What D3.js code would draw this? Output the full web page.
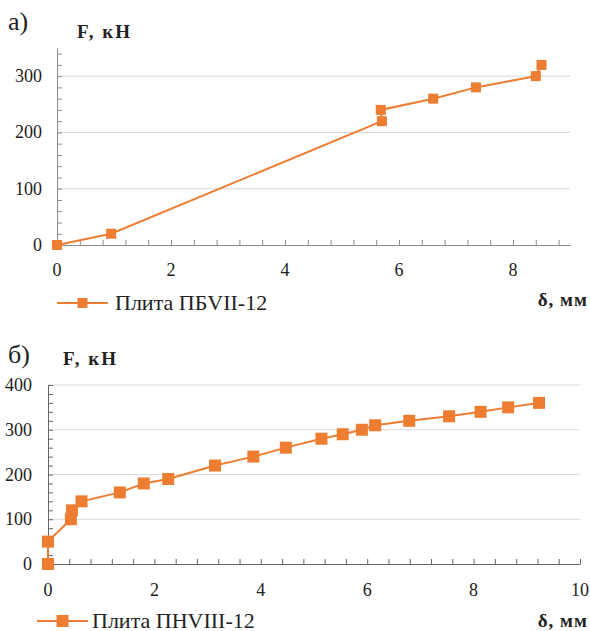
<!DOCTYPE html>
<html>
<head>
<meta charset="utf-8">
<script src="https://cdn.jsdelivr.net/npm/d3@7"></script>
<style>
  body { margin: 0; background: #fff; }
  #chart { position: relative; width: 590px; height: 631px; overflow: hidden; }
  svg { position: absolute; left: 0; top: 0; }
  .lbl { position: absolute; white-space: nowrap; line-height: 1; color: #222; }
  .b { font-weight: bold; }
</style>
</head>
<body>
<div id="chart" style="font-family:'Liberation Serif', 'Times New Roman', serif"></div>
<script>
// Data
const deltaA = [0, 0.95, 5.7, 5.68, 6.6, 7.35, 8.4, 8.5];
const forceA = [0, 20, 220, 240, 260, 280, 300, 320];
const seriesA = "Плита ПБVII-12";

const deltaB = [0, 0, 0.43, 0.45, 0.63, 1.35, 1.8, 2.26, 3.14, 3.86, 4.47, 5.14, 5.54, 5.9, 6.15, 6.79, 7.54, 8.13, 8.65, 9.23];
const forceB = [0, 50, 100, 120, 140, 160, 180, 190, 220, 240, 260, 280, 290, 300, 310, 320, 330, 340, 350, 360];
const seriesB = "Плита ПНVIII-12";

const xTicksA = [0, 2, 4, 6, 8];
const yTicksA = [0, 100, 200, 300];
const xTicksB = [0, 2, 4, 6, 8, 10];
const yTicksB = [0, 100, 200, 300, 400];

const orange = "#ED7D31";
const width = 590, height = 631;

const root = d3.select("#chart");
const svg = root.append("svg")
    .attr("width", width)
    .attr("height", height);

// HTML text label; ax/ay are anchor fractions (0 = left/top, 0.5 = centre, 1 = right/bottom)
function label(txt, px, py, ax, ay, size, cls, spacing) {
    root.append("div")
        .attr("class", "lbl " + (cls || ""))
        .style("left", px + "px")
        .style("top", py + "px")
        .style("font-size", size + "px")
        .style("letter-spacing", (spacing || 0) + "px")
        .style("transform", `translate(${-ax * 100}%, ${-ay * 100}%)`)
        .text(txt);
}

// Draw one panel
function panel(cfg) {
    const x = d3.scaleLinear().domain(cfg.xDomain).range(cfg.xRange);
    const y = d3.scaleLinear().domain(cfg.yDomain).range(cfg.yRange);
    const g = svg.append("g");

    // gridlines
    g.append("g").selectAll("line")
        .data(cfg.yTicks.filter(d => d > 0))
        .enter().append("line")
        .attr("x1", x(cfg.xDomain[0]))
        .attr("x2", x(cfg.xDomain[1]))
        .attr("y1", d => y(d))
        .attr("y2", d => y(d))
        .attr("stroke", "#d9d9d9")
        .attr("stroke-width", 1);

    // axes with minor ticks (every 0.4 on x, every 20 on y)
    const xMinor = d3.range(0, cfg.xDomain[1] + 0.001, 0.4);
    const yMinor = d3.range(0, cfg.yDomain[1] + 0.001, 20);

    const xAxis = g.append("g")
        .attr("transform", `translate(0,${y(0)})`)
        .call(d3.axisBottom(x).tickValues(xMinor).tickFormat("").tickSize(-5).tickSizeOuter(0));
    const yAxis = g.append("g")
        .attr("transform", `translate(${x(0)},0)`)
        .call(d3.axisLeft(y).tickValues(yMinor).tickFormat("").tickSize(-5).tickSizeOuter(0));
    [xAxis, yAxis].forEach(a => {
        a.selectAll("line, path").attr("stroke", cfg.axisColor);
    });

    // tick labels
    cfg.xTicks.forEach(v => label(v, x(v), y(0) + cfg.xPad, 0.5, 0.5, cfg.tickSize));
    cfg.yTicks.forEach(v => label(v, x(0) - cfg.yPad, y(v), 1, 0.5, cfg.tickSize));

    // series
    const pts = cfg.xs.map((d, i) => [d, cfg.ys[i]]);
    g.append("path")
        .datum(pts)
        .attr("fill", "none")
        .attr("stroke", orange)
        .attr("stroke-width", 2)
        .attr("d", d3.line().x(d => x(d[0])).y(d => y(d[1])));

    const s = cfg.marker;
    g.append("g").selectAll("rect")
        .data(pts)
        .enter().append("rect")
        .attr("x", d => x(d[0]) - s / 2)
        .attr("y", d => y(d[1]) - s / 2)
        .attr("width", s)
        .attr("height", s)
        .attr("fill", orange);

    // panel letter and axis titles
    label(cfg.letter, 8, cfg.letterY, 0, 0.5, 26);
    label("F, кН", cfg.fX, cfg.fY, 0, 0.5, 19, "b", 2);
    label("δ, мм", 588, cfg.dY, 1, 0.5, 19, "b", 1);

    // legend
    const lg = g.append("g").attr("transform", `translate(${cfg.legX},${cfg.legY})`);
    lg.append("line")
        .attr("x1", 0).attr("x2", 51)
        .attr("stroke", orange).attr("stroke-width", 2);
    lg.append("rect")
        .attr("x", 25.5 - s / 2).attr("y", -s / 2)
        .attr("width", s).attr("height", s)
        .attr("fill", orange);
    label(cfg.series, cfg.legX + cfg.legTextDx, cfg.legY, 0, 0.5, 22);
}

panel({
    xs: deltaA, ys: forceA, series: seriesA,
    xDomain: [0, 9], xRange: [57, 570],
    yDomain: [0, 350], yRange: [245, 48],
    xTicks: xTicksA, yTicks: yTicksA,
    xPad: 25, yPad: 15,
    tickSize: 18,
    axisColor: "#8c8c8c", marker: 10,
    letter: "а)", letterY: 22,
    fX: 77, fY: 31, dY: 299,
    legX: 57, legY: 303, legTextDx: 58
});

panel({
    xs: deltaB, ys: forceB, series: seriesB,
    xDomain: [0, 10], xRange: [48, 580],
    yDomain: [0, 400], yRange: [564, 385],
    xTicks: xTicksB, yTicks: yTicksB,
    xPad: 26, yPad: 16,
    tickSize: 18,
    axisColor: "#666", marker: 12,
    letter: "б)", letterY: 355,
    fX: 63, fY: 358, dY: 620,
    legX: 37, legY: 621, legTextDx: 55
});
</script>
</body>
</html>
